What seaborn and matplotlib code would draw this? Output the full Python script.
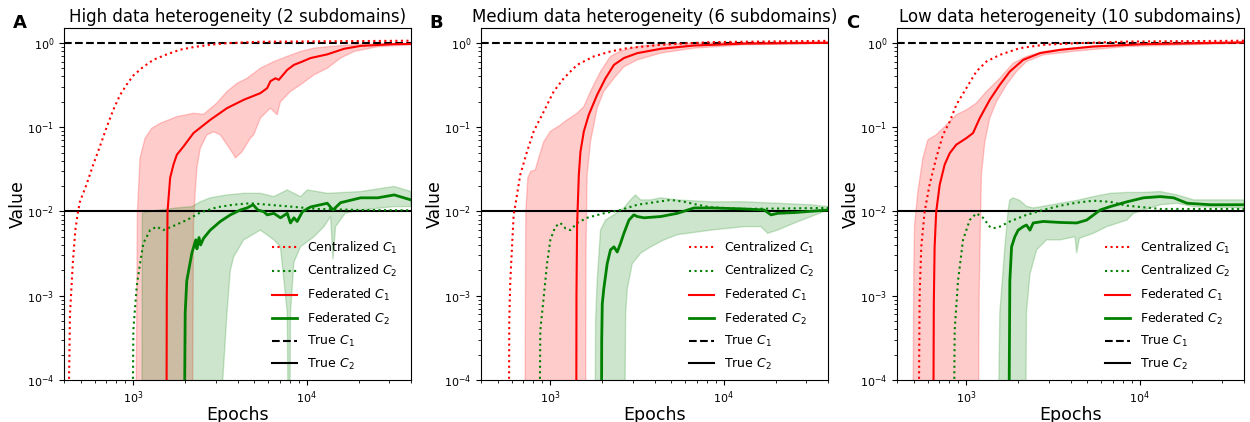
import numpy as np
import pandas as pd
import matplotlib
matplotlib.use("Agg")
import matplotlib.pyplot as plt
import seaborn as sns

LOW = 1e-6  # values that fall below the visible axis

titles = ["High data heterogeneity (2 subdomains)",
          "Medium data heterogeneity (6 subdomains)",
          "Low data heterogeneity (10 subdomains)"]
panel_letters = ["A", "B", "C"]
legend_labels = ["Centralized $C_1$", "Centralized $C_2$", "Federated $C_1$",
                 "Federated $C_2$", "True $C_1$", "True $C_2$"]
true_c1 = 1.0
true_c2 = 0.01

# ---------------- Panel A ----------------
A_cent_c1_x = [414, 433, 450, 465, 480, 494, 540, 590, 644, 705, 769, 841, 919, 1004, 1147, 1311, 1566, 1869, 2230, 2786, 3480, 5420, 40000]
A_cent_c1_y = [LOW, 6e-4, 0.0025, 0.006, 0.0095, 0.013, 0.021, 0.036, 0.059, 0.10, 0.16, 0.24, 0.32, 0.41, 0.52, 0.63, 0.73, 0.83, 0.89, 0.95, 0.99, 1.03, 1.06]
A_cent_c2_x = [983, 1004, 1050, 1097, 1147, 1254, 1370, 1490, 1703, 2040, 2439, 3040, 3786, 4744, 7360, 11540, 20500, 40000]
A_cent_c2_y = [LOW, 0.00039, 0.0013, 0.0024, 0.0042, 0.006, 0.0066, 0.006, 0.0067, 0.0079, 0.0097, 0.0112, 0.012, 0.0125, 0.0116, 0.0107, 0.0104, 0.0103]
A_fed_c1_x = [1553, 1565, 1580, 1636, 1710, 1788, 1954, 2230, 2786, 3480, 4343, 5420, 5930, 6190, 6617, 6920, 7740, 8460, 9460, 10540, 13170, 16450, 20500, 32000, 40000]
A_fed_c1_y = [LOW, 1e-3, 0.0099, 0.025, 0.036, 0.047, 0.059, 0.085, 0.122, 0.168, 0.211, 0.253, 0.29, 0.35, 0.38, 0.364, 0.478, 0.548, 0.60, 0.66, 0.73, 0.85, 0.92, 0.965, 0.97]
A_fed_c1_hi_x = [1027, 1060, 1097, 1173, 1283, 1432, 1788, 2230, 2550, 3040, 3480, 3970, 4540, 5420, 6480, 7740, 9230, 11030, 13170, 20500, 40000]
A_fed_c1_hi_y = [LOW, 0.01, 0.043, 0.074, 0.097, 0.111, 0.133, 0.146, 0.142, 0.193, 0.265, 0.33, 0.38, 0.50, 0.60, 0.69, 0.79, 0.865, 0.90, 0.965, 0.99]
A_fed_c1_lo_x = [2183, 2230, 2282, 2335, 2439, 2665, 2910, 3183, 3480, 3804, 3886, 4250, 4744, 4960, 5420, 6190, 6770, 7072, 8079, 9230, 11030, 13170, 15715, 18800, 25700, 40000]
A_fed_c1_lo_y = [LOW, 0.0069, 0.017, 0.033, 0.056, 0.081, 0.088, 0.081, 0.062, 0.047, 0.043, 0.051, 0.074, 0.081, 0.128, 0.168, 0.14, 0.20, 0.265, 0.318, 0.417, 0.50, 0.66, 0.79, 0.90, 0.947]
A_fed_c2_x = [1954, 1998, 2040, 2183, 2300, 2335, 2400, 2450, 2550, 2786, 3183, 3636, 4153, 4540, 4920, 5240, 5680, 5930, 6480, 7072, 7740, 8079, 8460, 8830, 9460, 10540, 12040, 13170, 14200, 15715, 20500, 25700, 32000, 40000]
A_fed_c2_y = [LOW, 0.00063, 0.0015, 0.0032, 0.0046, 0.0036, 0.0049, 0.0040, 0.0048, 0.006, 0.0076, 0.0091, 0.0104, 0.011, 0.012, 0.0104, 0.0099, 0.0091, 0.0095, 0.0084, 0.0095, 0.0073, 0.0084, 0.0076, 0.0099, 0.0113, 0.012, 0.0125, 0.0104, 0.0127, 0.0145, 0.0145, 0.0157, 0.0137]
A_fed_c2_hi_x = [1123, 1130, 1200, 1432, 1788, 2183, 2439, 2786, 3480, 4343, 5420, 6480, 7740, 8460, 9230, 10100, 13170, 20500, 32000, 40000]
A_fed_c2_hi_y = [LOW, 0.0095, 0.0099, 0.0104, 0.011, 0.0114, 0.013, 0.0145, 0.0157, 0.0164, 0.0164, 0.015, 0.018, 0.0164, 0.015, 0.018, 0.0164, 0.0172, 0.0198, 0.0172]
A_fed_c2_lo_x = [3183, 3290, 3480, 3636, 3804, 4343, 5420, 6480, 7072, 7740, 7950, 8079, 8460, 9230, 11030, 12600, 13760, 14200, 14700, 16700, 20500, 32000, 40000]
A_fed_c2_lo_y = [LOW, 1e-4, 0.00063, 0.002, 0.0029, 0.0046, 0.006, 0.0046, 0.0038, 0.00063, LOW, 0.00063, 0.0025, 0.0038, 0.005, 0.0066, 0.0087, 0.0027, 0.0066, 0.0095, 0.0104, 0.0114, 0.0114]

# ---------------- Panel B ----------------
B_cent_c1_x = [577, 582, 590, 617, 673, 736, 805, 920, 1050, 1200, 1432, 1788, 2230, 2786, 4343, 8460, 40000]
B_cent_c1_y = [LOW, 5e-4, 0.0015, 0.009, 0.027, 0.051, 0.089, 0.153, 0.265, 0.38, 0.548, 0.69, 0.79, 0.865, 0.947, 1.02, 1.056]
B_cent_c2_x = [860, 879, 920, 961, 1004, 1073, 1147, 1226, 1311, 1432, 1636, 2040, 2550, 3183, 4153, 4960, 5930, 7072, 8460, 13170, 40000]
B_cent_c2_y = [LOW, 0.00039, 0.00097, 0.0024, 0.0046, 0.0066, 0.0073, 0.0063, 0.006, 0.0073, 0.0084, 0.0095, 0.0104, 0.012, 0.013, 0.0137, 0.013, 0.012, 0.0112, 0.0107, 0.011]
B_fed_c1_x = [1413, 1420, 1432, 1465, 1497, 1566, 1672, 1869, 2088, 2335, 2665, 3183, 4343, 6770, 13170, 40000]
B_fed_c1_y = [LOW, 1e-3, 0.0069, 0.027, 0.051, 0.089, 0.14, 0.242, 0.38, 0.548, 0.66, 0.755, 0.85, 0.93, 0.98, 1.0]
B_fed_c1_hi_x = [712, 725, 745, 775, 822, 860, 920, 1004, 1147, 1254, 1432, 1566, 1710, 1954, 2230, 2550, 3183, 4343, 8460, 40000]
B_fed_c1_hi_y = [LOW, 0.01, 0.025, 0.03, 0.031, 0.043, 0.067, 0.089, 0.106, 0.122, 0.146, 0.175, 0.265, 0.457, 0.69, 0.80, 0.905, 0.965, 1.0, 1.03]
B_fed_c1_lo_x = [1600, 1610, 1636, 1710, 1869, 2040, 2335, 2665, 3183, 4343, 6770, 13170, 40000]
B_fed_c1_lo_y = [LOW, 0.003, 0.027, 0.067, 0.168, 0.265, 0.38, 0.52, 0.628, 0.755, 0.865, 0.947, 0.99]
B_fed_c2_x = [1970, 1985, 2000, 2040, 2135, 2230, 2335, 2439, 2550, 2665, 2850, 3040, 3183, 3480, 4343, 5420, 6770, 8460, 13170, 17150, 18800, 20500, 25700, 40000]
B_fed_c2_y = [LOW, 0.0003, 0.0008, 0.0012, 0.0024, 0.0035, 0.0038, 0.0033, 0.0042, 0.0055, 0.0079, 0.0091, 0.0087, 0.0084, 0.0087, 0.0095, 0.011, 0.011, 0.0107, 0.0104, 0.0091, 0.0095, 0.0097, 0.0104]
B_fed_c2_hi_x = [1807, 1830, 1869, 1954, 2088, 2335, 2665, 2910, 3110, 3328, 3804, 4343, 5420, 8460, 13170, 20500, 32000, 40000]
B_fed_c2_hi_y = [LOW, 0.0005, 0.0015, 0.006, 0.0079, 0.0091, 0.011, 0.0137, 0.0157, 0.0137, 0.0137, 0.0145, 0.0137, 0.013, 0.013, 0.0125, 0.012, 0.0114]
B_fed_c2_lo_x = [2665, 2728, 2786, 2978, 3328, 3804, 4540, 5420, 8460, 13170, 16450, 17951, 20500, 25700, 32000, 40000]
B_fed_c2_lo_y = [LOW, 0.00063, 0.0012, 0.0024, 0.0032, 0.0038, 0.0046, 0.0053, 0.006, 0.0066, 0.0066, 0.0055, 0.006, 0.0073, 0.0087, 0.0104]

# ---------------- Panel C ----------------
C_cent_c1_x = [528, 540, 552, 577, 617, 673, 736, 805, 879, 1004, 1147, 1311, 1566, 2040, 2786, 4343, 8460, 40000]
C_cent_c1_y = [LOW, 0.001, 0.0038, 0.0099, 0.021, 0.043, 0.081, 0.116, 0.184, 0.29, 0.457, 0.60, 0.72, 0.865, 0.947, 0.99, 1.035, 1.06]
C_cent_c2_x = [841, 860, 899, 961, 1050, 1147, 1254, 1370, 1432, 1566, 1788, 2230, 2786, 3480, 4343, 5420, 6770, 8460, 13170, 40000]
C_cent_c2_y = [LOW, 0.00039, 0.0015, 0.0046, 0.0079, 0.0095, 0.0084, 0.0066, 0.0063, 0.0066, 0.0076, 0.0091, 0.0104, 0.0117, 0.0127, 0.0134, 0.013, 0.0117, 0.0107, 0.0107]
C_fed_c1_x = [644, 652, 659, 673, 705, 753, 805, 879, 1004, 1097, 1200, 1370, 1566, 1788, 2135, 2665, 3480, 5420, 10540, 40000]
C_fed_c1_y = [LOW, 0.0008, 0.0038, 0.0099, 0.0207, 0.036, 0.049, 0.062, 0.074, 0.085, 0.128, 0.211, 0.318, 0.457, 0.628, 0.755, 0.826, 0.905, 0.965, 1.01]
C_fed_c1_hi_x = [490, 500, 505, 528, 564, 603, 673, 769, 879, 1004, 1147, 1311, 1566, 1869, 2230, 2786, 4343, 8460, 40000]
C_fed_c1_hi_y = [LOW, 0.002, 0.0069, 0.0173, 0.043, 0.0707, 0.081, 0.106, 0.14, 0.16, 0.193, 0.265, 0.38, 0.574, 0.69, 0.79, 0.88, 0.965, 1.035]
C_fed_c1_lo_x = [1170, 1190, 1210, 1226, 1283, 1370, 1497, 1710, 1954, 2230, 2786, 4343, 8460, 40000]
C_fed_c1_lo_y = [LOW, 0.001, 0.0069, 0.027, 0.067, 0.128, 0.20, 0.318, 0.457, 0.60, 0.72, 0.80, 0.905, 0.99]
C_fed_c2_x = [1749, 1788, 1830, 1910, 1998, 2135, 2230, 2335, 2439, 2786, 3480, 4343, 4960, 5930, 6770, 8460, 10540, 13170, 15715, 18800, 25700, 40000]
C_fed_c2_y = [LOW, 0.0015, 0.0038, 0.005, 0.006, 0.0066, 0.0069, 0.006, 0.0073, 0.0076, 0.0074, 0.0073, 0.0079, 0.0104, 0.0114, 0.013, 0.0145, 0.015, 0.0145, 0.0125, 0.012, 0.012]
C_fed_c2_hi_x = [1497, 1566, 1674, 1749, 1788, 1869, 2040, 2230, 2439, 2786, 3480, 4343, 5420, 6770, 8460, 10540, 13170, 16450, 20500, 40000]
C_fed_c2_hi_y = [LOW, 0.00063, 0.0038, 0.0104, 0.0137, 0.0145, 0.0135, 0.0115, 0.011, 0.0115, 0.0125, 0.0135, 0.015, 0.0164, 0.0168, 0.0168, 0.0172, 0.0157, 0.0137, 0.0137]
C_fed_c2_lo_x = [2183, 2230, 2335, 2550, 2910, 3480, 4250, 4343, 4500, 5420, 6480, 8460, 9230, 13170, 16450, 20500, 40000]
C_fed_c2_lo_y = [LOW, 0.00063, 0.0018, 0.0035, 0.0046, 0.0046, 0.005, 0.0032, 0.0048, 0.0055, 0.0066, 0.0079, 0.0095, 0.012, 0.0125, 0.0114, 0.011]

panels = [
    (A_cent_c1_x, A_cent_c1_y, A_cent_c2_x, A_cent_c2_y, A_fed_c1_x, A_fed_c1_y,
     A_fed_c1_hi_x, A_fed_c1_hi_y, A_fed_c1_lo_x, A_fed_c1_lo_y,
     A_fed_c2_x, A_fed_c2_y, A_fed_c2_hi_x, A_fed_c2_hi_y, A_fed_c2_lo_x, A_fed_c2_lo_y),
    (B_cent_c1_x, B_cent_c1_y, B_cent_c2_x, B_cent_c2_y, B_fed_c1_x, B_fed_c1_y,
     B_fed_c1_hi_x, B_fed_c1_hi_y, B_fed_c1_lo_x, B_fed_c1_lo_y,
     B_fed_c2_x, B_fed_c2_y, B_fed_c2_hi_x, B_fed_c2_hi_y, B_fed_c2_lo_x, B_fed_c2_lo_y),
    (C_cent_c1_x, C_cent_c1_y, C_cent_c2_x, C_cent_c2_y, C_fed_c1_x, C_fed_c1_y,
     C_fed_c1_hi_x, C_fed_c1_hi_y, C_fed_c1_lo_x, C_fed_c1_lo_y,
     C_fed_c2_x, C_fed_c2_y, C_fed_c2_hi_x, C_fed_c2_hi_y, C_fed_c2_lo_x, C_fed_c2_lo_y),
]

plt.rcParams["font.family"] = ["DejaVu Sans"]
plt.rcParams["mathtext.fontset"] = "dejavusans"

fig = plt.figure(figsize=(12.5, 4.22), dpi=100)
lefts = [64 / 1250, 481 / 1250, 897 / 1250]
bottom = 42 / 422
width = 347 / 1250
height = 352 / 422


def band(ax, hx, hy, lx, ly, color):
    xs = list(hx) + list(lx)[::-1]
    ys = list(hy) + list(ly)[::-1]
    ax.fill(xs, ys, facecolor=color, edgecolor=color, alpha=0.2, lw=1.0, zorder=1)


def line(ax, x, y, color, ls, lw, z):
    df = pd.DataFrame({"Epochs": x, "Value": y})
    sns.lineplot(data=df, x="Epochs", y="Value", ax=ax, color=color, linestyle=ls,
                 linewidth=lw, estimator=None, sort=False, legend=False, zorder=z)
    return ax.lines[-1]


for i, p in enumerate(panels):
    (cx1, cy1, cx2, cy2, fx1, fy1, hx1, hy1, lx1, ly1,
     fx2, fy2, hx2, hy2, lx2, ly2) = p
    ax = fig.add_axes([lefts[i], bottom, width, height])
    ax.set_xscale("log")
    ax.set_yscale("log")
    ax.set_xlim(400, 40000)
    ax.set_ylim(1e-4, 1.5)

    band(ax, hx1, hy1, lx1, ly1, "red")
    band(ax, hx2, hy2, lx2, ly2, "green")

    h_cc1 = line(ax, cx1, cy1, "red", ":", 1.5, 3)
    h_cc2 = line(ax, cx2, cy2, "green", ":", 1.5, 3)
    h_fc1 = line(ax, fx1, fy1, "red", "-", 1.5, 4)
    h_fc2 = line(ax, fx2, fy2, "green", "-", 2.0, 4)
    h_t1 = ax.axhline(true_c1, color="black", ls="--", lw=1.5, zorder=2)
    h_t2 = ax.axhline(true_c2, color="black", ls="-", lw=1.5, zorder=2)

    ax.set_title(titles[i], fontsize=12, pad=4)
    ax.set_xlabel("Epochs", fontsize=12.5, labelpad=0)
    ax.set_ylabel("Value", fontsize=12.5, labelpad=0)
    ax.tick_params(axis="both", which="major", labelsize=8)
    ax.legend([h_cc1, h_cc2, h_fc1, h_fc2, h_t1, h_t2], legend_labels,
              loc="center left", bbox_to_anchor=(0.586, 0.211), borderaxespad=0,
              frameon=False, fontsize=9, labelspacing=0.6)
    fig.text([13, 429, 846][i] / 1250, 1 - 23 / 422, panel_letters[i],
             fontsize=13, fontweight="bold", va="center", ha="left")

fig.savefig("out.png", dpi=100)
